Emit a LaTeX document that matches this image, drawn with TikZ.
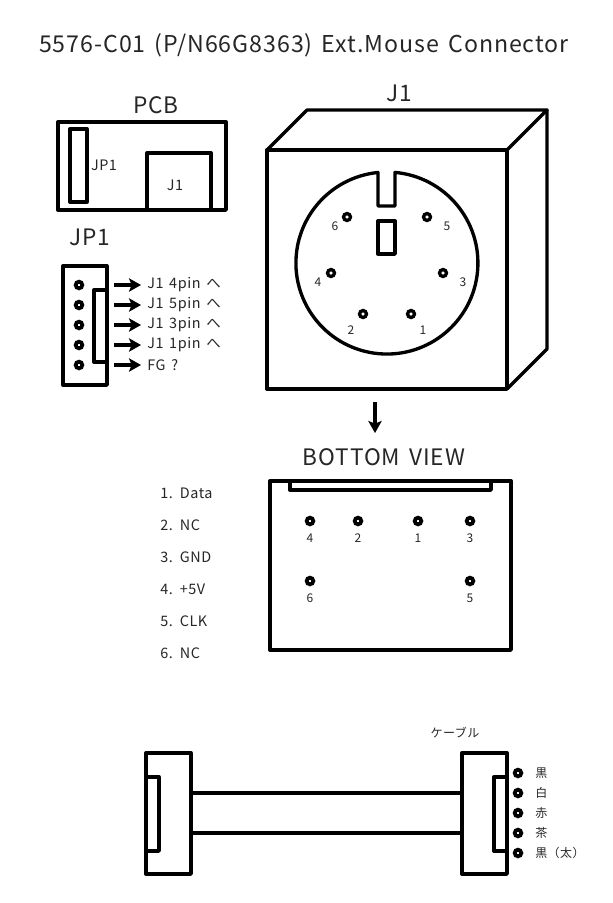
\documentclass[tikz,border=0pt]{standalone}
\usepackage{fontspec}
\setmainfont[LetterSpace=4,WordSpace=1.5]{Noto Sans CJK JP}
\usetikzlibrary{arrows.meta}
\colorlet{ink}{black!85}
\tikzset{
  heavy/.style={draw=black,line width=2.5pt,line join=round,line cap=round},
  pin/.style={circle,draw=black,fill=white,line width=2.8pt,inner sep=0pt,minimum size=5pt},
  fpin/.style={circle,draw=black,fill=white,line width=2.5pt,inner sep=0pt,minimum size=5.2pt},
  huge/.style={inner sep=0pt,text=ink,font=\fontsize{17.4}{20}\selectfont},
  big/.style={inner sep=0pt,text=ink,font=\fontsize{17}{20}\selectfont},
  mid/.style={inner sep=0pt,text=ink,font=\fontsize{10.8}{13}\selectfont},
  tiny/.style={inner sep=0pt,text=ink,font=\fontsize{9}{10}\selectfont},
  arrowline/.style={draw=black,line width=2.6pt,-{Stealth[length=9pt,width=10pt,inset=2pt]}},
}
\begin{document}
\begin{tikzpicture}[x=0.75pt,y=-0.75pt]
\useasboundingbox (0,0) rectangle (613,903);
\node[huge] (title) at (304,45) {5576-C01 (P/N66G8363) Ext.Mouse Connector};
% PCB
\node[big] (pcbt) at (156,105) {PCB};
\draw[heavy] (58,122) rectangle (226,210);
\draw[heavy] (70,129) rectangle (87,202);
\draw[heavy] (147,210) |- (211,153) -- (211,210);
\node[mid] (jp1a) at (104,165) {JP1};
\node[mid] (j1a) at (175,185) {J1};
% JP1 connector
\node[big] (jp1t) at (90,237) {JP1};
\draw[heavy] (63,266) rectangle (107,385);
\draw[heavy] (107,290) -- (94,290) -- (94,362) -- (107,362);
\foreach \n/\y/\t in {a/285/J1 4pin へ,b/305/J1 5pin へ,c/325/J1 3pin へ,d/345/J1 1pin へ,e/365/FG ?}{
  \node[pin] (p\n) at (79,\y) {};
  \coordinate (s\n) at (114,\y);
  \coordinate (t\n) at (141,\y);
  \node[mid,anchor=west] (l\n) at (147,\y) {\t};
  \draw[arrowline] (s\n) -- (t\n);
}
% J1 box
\node[big] (j1t) at (399,93) {J1};
\draw[heavy] (267,150) rectangle (507,389);
\draw[heavy] (267,150) -- (307,110) -- (547,110) -- (507,150);
\draw[heavy] (547,110) -- (547,349) -- (507,389);
\draw[heavy] (378,172.4) -- (378,206) -- (395,206) -- (395,172.4)
  arc[start angle=-84.9,end angle=264.3,radius=91] -- cycle;
\draw[heavy] (378,221) rectangle (395,254);
\foreach \n/\x/\y/\lx/\ly in {6/347/217/335/226,5/427/217/447/226,4/331/273/318/282,3/443/273/463/282,2/363/314/351/330,1/411/314/423/330}{
  \node[fpin] (f\n) at (\x,\y) {};
  \node[tiny] (fl\n) at (\lx,\ly) {\n};
}
\coordinate (dna) at (375,402);
\coordinate (dnb) at (375,433);
\draw[arrowline] (dna) -- (dnb);
% Bottom view
\node[big] (bvt) at (384,457) {BOTTOM VIEW};
\draw[heavy] (270,481) rectangle (511,650);
\draw[heavy] (290,481) -- (290,490) -- (491,490) -- (491,481);
\foreach \n/\x/\y in {4/310/521,2/358/521,1/418/521,3/470/521,6/310/581,5/470/581}{
  \node[pin] (b\n) at (\x,\y) {};
  \node[tiny,below=9.5pt] (bl\n) at (b\n.center) {\n};
}
\foreach \n/\y/\t in {1/493/1. Data,2/525/2. NC,3/557/3. GND,4/589/4. +5V,5/621/5. CLK,6/653/6. NC}{
  \node[mid,anchor=west] (li\n) at (160,\y) {\t};
}
% Cable
\node[tiny] (cab) at (455,733) {ケーブル};
\draw[heavy] (146,753) rectangle (191,874);
\draw[heavy] (146,777) -- (159,777) -- (159,851) -- (146,851);
\draw[heavy] (462,753) rectangle (507,874);
\draw[heavy] (507,777) -- (494,777) -- (494,851) -- (507,851);
\draw[heavy] (191,793) -- (462,793);
\draw[heavy] (191,833) -- (462,833);
\foreach \n/\y/\t in {a/773/黒,b/793/白,c/813/赤,d/833/茶,e/853/黒（太）}{
  \node[pin] (c\n) at (518,\y) {};
  \node[tiny,anchor=west] (cl\n) at (535,\y) {\t};
}
\end{tikzpicture}
\end{document}
